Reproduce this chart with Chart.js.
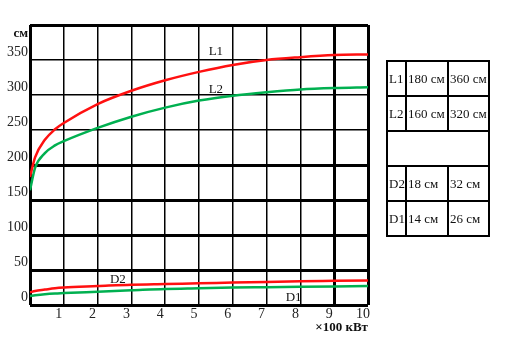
<!DOCTYPE html>
<html>
<head>
<meta charset="utf-8">
<script src="https://cdn.jsdelivr.net/npm/chart.js@4"></script>
<style>
  body { margin:0; background:#fff; }
  #wrap { position:relative; width:513px; height:361px; }
  #tbl { position:absolute; left:386px; top:60px; width:102px; table-layout:fixed;
         border-collapse:collapse;
         font-family:"Liberation Serif", serif; font-size:13px; color:#111; }
  #tbl tr { height:35px; }
  #tbl td { border:2px solid #000; padding:0 0 0 1px; white-space:nowrap; overflow:hidden; }
</style>
</head>
<body>
<div id="wrap">
  <canvas id="c" width="513" height="361"></canvas>
  <table id="tbl">
    <colgroup><col style="width:19px"><col style="width:42px"><col style="width:41px"></colgroup>
    <tr><td>L1</td><td>180 см</td><td>360 см</td></tr>
    <tr><td>L2</td><td>160 см</td><td>320 см</td></tr>
    <tr><td colspan="3"></td></tr>
    <tr><td>D2</td><td>18 см</td><td>32 см</td></tr>
    <tr><td>D1</td><td>14 см</td><td>26 см</td></tr>
  </table>
</div>
<script>
// power, x100 kW
let powerX = [0, 0.15, 0.44, 0.74, 1, 2, 3, 4, 5, 6, 7, 8, 9, 10]
// curves, cm
let l1Vals = [183, 211, 236, 251, 260, 287, 306, 321, 333, 343, 350, 354, 357, 358]
let l2Vals = [164, 196, 217, 228, 234, 253, 269, 282, 292, 299, 304, 308, 310, 311]
let d2Vals = [18, 20, 22, 24, 25, 27, 29, 30, 31, 32, 33, 34, 34.5, 35]
let d1Vals = [13, 14, 15.5, 16.5, 17, 19, 21, 23, 24, 25, 25.5, 26, 26.5, 27]

let curveNames = ['L1', 'L2', 'D2', 'D1']
// where the names sit, in data units
let nameX = [5.5, 5.5, 2.6, 7.8]
let nameY = [362, 308, 37, 10]

let serif = '"Liberation Serif", serif'

function pts(vals){
  return powerX.map((x, i) => ({x: x, y: vals[i]}))
}

function line(vals, color){
  return {
    data: pts(vals),
    borderColor: color,
    borderWidth: 2.5,
    pointRadius: 0,
    fill: false,
    cubicInterpolationMode: 'monotone'
  }
}

let thickY = [0, 50, 100, 150, 200, 400]
let thickX = [0, 9, 10]

let extras = {
  id: 'extras',
  afterDraw(chart){
    let ctx = chart.ctx
    let xs = chart.scales.x, ys = chart.scales.y
    ctx.save()
    ctx.fillStyle = '#111'
    ctx.font = '13px ' + serif
    ctx.textAlign = 'center'
    ctx.textBaseline = 'middle'
    curveNames.forEach((n, i) => {
      ctx.fillText(n, xs.getPixelForValue(nameX[i]), ys.getPixelForValue(nameY[i]))
    })
    ctx.font = 'bold 13px ' + serif
    ctx.textAlign = 'right'
    ctx.fillText('см', 28, 34)
    ctx.fillText('×100 кВт', 368, 328)
    ctx.restore()
  }
}

new Chart('c', {
  type: 'line',
  data: {
    datasets: [
      line(l1Vals, '#ff1010'),
      line(l2Vals, '#00b050'),
      line(d2Vals, '#ff1010'),
      line(d1Vals, '#00b050')
    ]
  },
  options: {
    responsive: false,
    animation: false,
    layout: { padding: { top: 25, right: 145, left: 0, bottom: 0 } },
    plugins: { legend: { display: false }, tooltip: { enabled: false } },
    scales: {
      x: {
        type: 'linear', min: 0, max: 10,
        afterFit(s){ s.height = 56 },
        border: { display: false },
        grid: {
          color: '#000',
          lineWidth: c => thickX.includes(c.tick.value) ? 3 : 1.5,
          drawTicks: false
        },
        ticks: {
          stepSize: 1, padding: 1, labelOffset: -5,
          color: '#222', font: { family: serif, size: 14 },
          callback: v => v === 0 ? '' : v
        }
      },
      y: {
        min: 0, max: 400,
        afterFit(s){ s.width = 30 },
        border: { display: false },
        grid: {
          color: '#000',
          lineWidth: c => thickY.includes(c.tick.value) ? 3 : 1.5,
          drawTicks: false
        },
        ticks: {
          stepSize: 50, padding: 2, labelOffset: -8,
          color: '#222', font: { family: serif, size: 14 },
          callback: v => v === 400 ? '' : v
        }
      }
    }
  },
  plugins: [extras]
})
</script>
</body>
</html>
